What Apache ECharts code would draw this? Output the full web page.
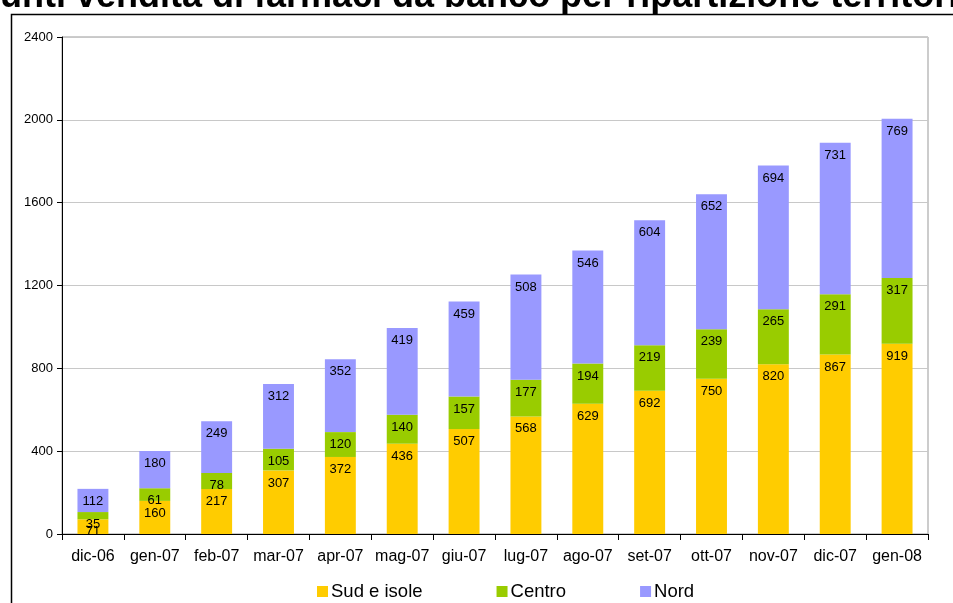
<!DOCTYPE html>
<html>
<head>
<meta charset="utf-8">
<script src="https://cdn.jsdelivr.net/npm/echarts@6/dist/echarts.min.js"></script>
<style>
html,body{margin:0;padding:0;background:#fff;}
#chart{width:953px;height:603px;}
</style>
</head>
<body>
<div id="chart"></div>
<script>
const categories = ['dic-06','gen-07','feb-07','mar-07','apr-07','mag-07','giu-07','lug-07','ago-07','set-07','ott-07','nov-07','dic-07','gen-08'];
const sudIsole = [71,160,217,307,372,436,507,568,629,692,750,820,867,919];
const centro = [35,61,78,105,120,140,157,177,194,219,239,265,291,317];
const nord = [112,180,249,312,352,419,459,508,546,604,652,694,731,769];
const seriesNames = ['Sud e isole','Centro','Nord'];
const titleText = 'Punti vendita di farmaci da banco per ripartizione territoriale';

const FONT = 'Liberation Sans, Arial, sans-serif';
const chart = echarts.init(document.getElementById('chart'), null, {renderer:'canvas'});

function mk(name, data, color){
  return {
    name: name, type:'bar', stack:'tot', data: data, barWidth:'50%',
    itemStyle:{color:color},
    label:{show:true, position:'insideTop', distance:6, color:'#000', fontFamily:FONT, fontSize:13},
    emphasis:{disabled:true}
  };
}

chart.setOption({
  animation:false,
  textStyle:{fontFamily:FONT},
  graphic:[
    {type:'rect', shape:{x:11.5,y:14.5,width:1000,height:700}, style:{fill:'none', stroke:'#000', lineWidth:1.5}, z:-1},
    {type:'text', x:-24, y:-21, style:{text:titleText, font:'bold 36px Liberation Sans, Arial, sans-serif', fill:'#000', textVerticalAlign:'top'}}
  ],
  grid:{left:62, top:37, right:25, bottom:69, show:true, borderColor:'#999', borderWidth:1, backgroundColor:'transparent'},
  legend:{
    top:577, left:312, itemWidth:11, itemHeight:11, itemGap:74, icon:'rect',
    textStyle:{fontFamily:FONT, fontSize:18.5, color:'#000', padding:[0,0,0,-2]},
    data: seriesNames
  },
  xAxis:{
    type:'category', data:categories,
    axisLine:{lineStyle:{color:'#000', width:1}},
    axisTick:{show:true, alignWithLabel:false, length:6, lineStyle:{color:'#000'}, inside:false},
    axisLabel:{color:'#000', fontSize:16, fontFamily:FONT, margin:15, interval:0}
  },
  yAxis:{
    type:'value', min:0, max:2400, interval:400,
    axisLine:{show:true, lineStyle:{color:'#000', width:1}},
    axisTick:{show:true, length:5, lineStyle:{color:'#000'}},
    axisLabel:{color:'#000', fontSize:13, fontFamily:FONT, margin:9, formatter:function(v){return String(v);}},
    splitLine:{lineStyle:{color:'#c8c8c8', width:1}}
  },
  series:[
    mk(seriesNames[0], sudIsole, '#FFCC00'),
    mk(seriesNames[1], centro, '#99CC00'),
    mk(seriesNames[2], nord, '#9999FF')
  ]
});
</script>
</body>
</html>
